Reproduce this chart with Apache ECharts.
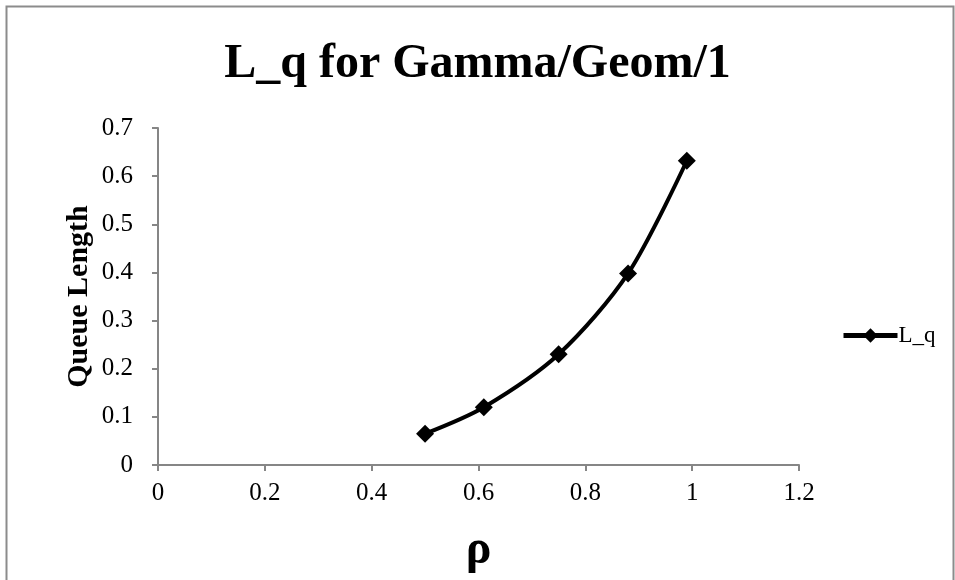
<!DOCTYPE html>
<html>
<head>
<meta charset="utf-8">
<script src="https://cdn.jsdelivr.net/npm/echarts@6/dist/echarts.min.js"></script>
<style>
  html, body { margin: 0; padding: 0; background: #fff; }
  #chart { width: 955px; height: 580px; }
</style>
</head>
<body>
<div id="chart"></div>
<script>
    // 数据
    const rhoValues = [0.5, 0.61, 0.75, 0.88, 0.99];
    const lqValues = [0.065, 0.12, 0.23, 0.398, 0.632];
    const seriesName = 'L_q';

    const FONT = '"Liberation Serif", "Times New Roman", serif';
    const AXIS_GRAY = '#868686';

    const chart = echarts.init(document.getElementById('chart'));

    const option = {
        backgroundColor: '#fff',
        animation: false,
        title: {
            text: 'L_q for Gamma/Geom/1',
            left: 'center',
            top: 36,
            textStyle: { fontFamily: FONT, fontSize: 48, fontWeight: 'bold', color: '#000' }
        },
        legend: {
            data: [seriesName],
            left: 836,
            top: 319,
            itemWidth: 54,
            itemHeight: 18,
            itemGap: 4,
            lineStyle: { width: 5 },
            textStyle: { fontFamily: FONT, fontSize: 23, color: '#000', padding: [0, 0, 0, -4] }
        },
        grid: {
            left: 158,
            right: 156,
            top: 128,
            bottom: 111
        },
        xAxis: {
            type: 'value',
            min: 0,
            max: 1.2,
            interval: 0.2,
            name: 'ρ',
            nameLocation: 'middle',
            nameGap: 62,
            nameMoveOverlap: false,
            nameTextStyle: { fontFamily: FONT, fontSize: 48, fontWeight: 'bold', color: '#000' },
            axisLine: { show: true, lineStyle: { color: AXIS_GRAY, width: 2 } },
            axisTick: { show: true, length: 6, lineStyle: { color: AXIS_GRAY, width: 2 } },
            axisLabel: { fontFamily: FONT, fontSize: 25, color: '#000', margin: 16 },
            splitLine: { show: false }
        },
        yAxis: {
            type: 'value',
            min: 0,
            max: 0.7,
            interval: 0.1,
            name: 'Queue Length',
            nameLocation: 'middle',
            nameGap: 64,
            nameMoveOverlap: false,
            nameTextStyle: { fontFamily: FONT, fontSize: 30, fontWeight: 'bold', color: '#000' },
            axisLine: { show: true, lineStyle: { color: AXIS_GRAY, width: 2 } },
            axisTick: { show: true, length: 6, lineStyle: { color: AXIS_GRAY, width: 2 } },
            axisLabel: { fontFamily: FONT, fontSize: 25, color: '#000', margin: 25 },
            splitLine: { show: false }
        },
        series: [{
            name: seriesName,
            type: 'line',
            smooth: 0.3,
            data: rhoValues.map((x, i) => [x, lqValues[i]]),
            symbol: 'diamond',
            symbolSize: 18,
            itemStyle: { color: '#000' },
            lineStyle: { color: '#000', width: 4 }
        }],
        graphic: [{
            type: 'rect',
            left: 4,
            top: 4,
            shape: { width: 947, height: 600 },
            style: { fill: 'none', stroke: '#8c8c8c', lineWidth: 2 },
            silent: true
        }]
    };

    chart.setOption(option);
    window.addEventListener('resize', () => chart.resize());
</script>
</body>
</html>
